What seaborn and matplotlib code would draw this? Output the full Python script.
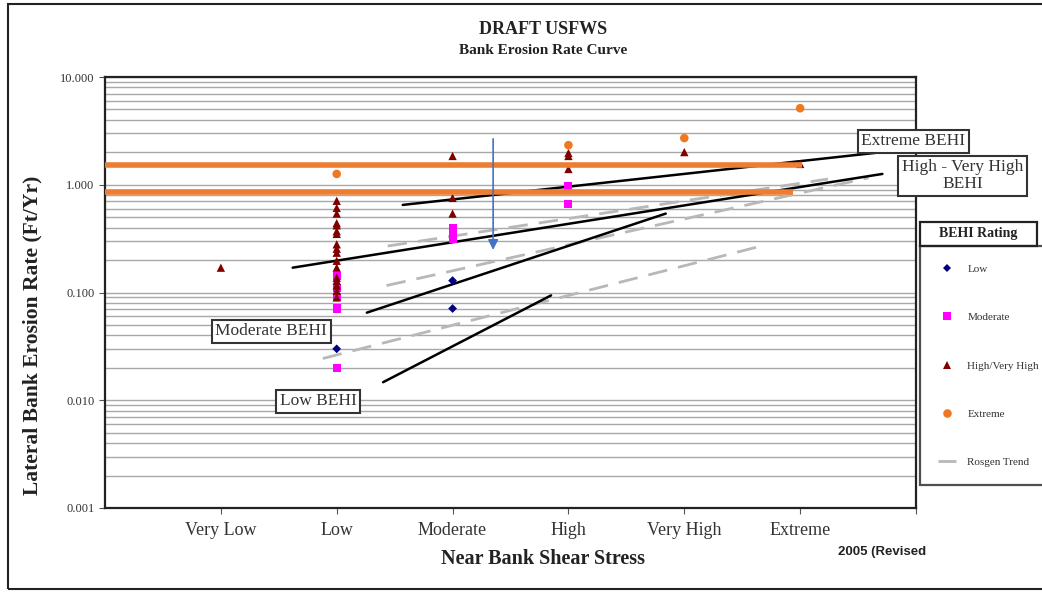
import matplotlib
matplotlib.use("Agg")
import matplotlib.pyplot as plt
import seaborn as sns
import pandas as pd
from matplotlib.patches import Rectangle
from matplotlib.ticker import FixedLocator, LogLocator, NullFormatter

stress_levels = ["Very Low", "Low", "Moderate", "High", "Very High", "Extreme"]
behi_ratings = ["Low", "Moderate", "High/Very High", "Extreme"]

# observed points, one pair of lists per BEHI rating
low_stress = ["Low", "Moderate", "Moderate"]
low_rate = [0.030, 0.129, 0.071]
mod_stress = ["Low"] * 5 + ["Moderate"] * 3 + ["High"] * 2
mod_rate = [0.143, 0.111, 0.090, 0.071, 0.020, 0.398, 0.351, 0.315, 0.98, 0.66]
hvh_stress = ["Very Low"] + ["Low"] * 17 + ["Moderate"] * 3 + ["High"] * 3 + ["Very High", "Extreme"]
hvh_rate = [0.17,
            0.71, 0.61, 0.54, 0.44, 0.42, 0.37, 0.35, 0.28, 0.255, 0.234,
            0.197, 0.170, 0.137, 0.129, 0.116, 0.104, 0.090,
            1.85, 0.755, 0.54,
            1.97, 1.85, 1.40,
            2.01, 1.56]
ext_stress = ["Low", "High", "Very High", "Extreme"]
ext_rate = [1.26, 2.33, 2.71, 5.13]

# BEHI trend lines (x in stress-category units)
extreme_line_x, extreme_line_y = [2.57, 6.71], [0.65, 2.01]
hvh_line_x, hvh_line_y = [1.62, 6.71], [0.17, 1.26]
moderate_line_x, moderate_line_y = [2.26, 4.84], [0.065, 0.54]
low_line_x, low_line_y = [2.40, 3.85], [0.0147, 0.094]

# Rosgen trends (dashed)
rosgen_a_x, rosgen_a_y = [2.44, 6.24], [0.27, 1.13]
rosgen_b_x, rosgen_b_y = [2.43, 6.59], [0.116, 1.16]
rosgen_c_x, rosgen_c_y = [1.88, 5.64], [0.0244, 0.266]

# orange threshold bars and blue arrow
threshold_rate = [1.53, 0.85]
threshold_end = [6.02, 5.94]
arrow_x = 3.35
arrow_rate = [2.83, 0.234]

ytick_vals = [0.001, 0.01, 0.1, 1, 10]
ytick_labels = ["0.001", "0.010", "0.100", "1.000", "10.000"]


def main():
    rows = []
    for rating, st, rt in [("Low", low_stress, low_rate),
                           ("Moderate", mod_stress, mod_rate),
                           ("High/Very High", hvh_stress, hvh_rate),
                           ("Extreme", ext_stress, ext_rate)]:
        for s, r in zip(st, rt):
            rows.append({"pos": stress_levels.index(s) + 1, "rate": r, "rating": rating})
    df = pd.DataFrame(rows)

    sns.set_style("white")
    plt.rcParams["font.family"] = ["Liberation Serif", "DejaVu Serif"]

    fig = plt.figure(figsize=(10.42, 5.92), dpi=100)
    ax = fig.add_axes([105 / 1042, 1 - 508 / 592, 811 / 1042, 431 / 592])

    ax.set_yscale("log")
    ax.set_ylim(0.001, 10)
    ax.set_xlim(0, 7)

    ax.yaxis.set_major_locator(FixedLocator(ytick_vals))
    ax.set_yticklabels(ytick_labels, fontsize=9, color="#333333")
    ax.yaxis.set_minor_locator(LogLocator(base=10, subs=range(2, 10)))
    ax.yaxis.set_minor_formatter(NullFormatter())
    ax.grid(True, which="both", axis="y", color="#a8a8a8", lw=1)
    ax.grid(False, axis="x")
    ax.tick_params(axis="y", which="minor", length=0)
    ax.tick_params(axis="y", which="major", length=4, left=True, color="#555555")
    ax.set_xticks(range(1, 8))
    ax.set_xticklabels(stress_levels + [""], fontsize=13, color="#333333")
    ax.tick_params(axis="x", length=4, bottom=True, color="#555555", pad=6)
    for sp in ax.spines.values():
        sp.set_color("#222222")
        sp.set_linewidth(1.6)

    # black BEHI lines
    for lx, ly in [(extreme_line_x, extreme_line_y), (hvh_line_x, hvh_line_y),
                   (moderate_line_x, moderate_line_y), (low_line_x, low_line_y)]:
        ax.plot(lx, ly, color="black", lw=1.8, zorder=3)

    # Rosgen dashed lines
    for i, (lx, ly) in enumerate([(rosgen_a_x, rosgen_a_y), (rosgen_b_x, rosgen_b_y),
                                  (rosgen_c_x, rosgen_c_y)]):
        ax.plot(lx, ly, color="#b8b8b8", lw=2, dashes=(7, 4), zorder=2.5,
                label="Rosgen Trend" if i == 0 else "_nolegend_")

    sns.scatterplot(data=df, x="pos", y="rate", hue="rating", style="rating",
                    size="rating",
                    hue_order=behi_ratings, style_order=behi_ratings,
                    size_order=behi_ratings,
                    sizes={"Low": 20, "Moderate": 34, "High/Very High": 36, "Extreme": 38},
                    palette={"Low": "#000080", "Moderate": "#ff00ff",
                             "High/Very High": "#800000", "Extreme": "#f07820"},
                    markers={"Low": "D", "Moderate": "s",
                             "High/Very High": "^", "Extreme": "o"},
                    linewidth=0, ax=ax, zorder=4)

    for r, xe in zip(threshold_rate, threshold_end):
        ax.plot([0, xe], [r, r], color="#ed7d31", lw=4, solid_capstyle="butt", zorder=5)

    ax.annotate("", xy=(arrow_x, arrow_rate[1]), xytext=(arrow_x, arrow_rate[0]),
                arrowprops=dict(arrowstyle="-|>", color="#4472c4", lw=1.2,
                                mutation_scale=15), zorder=6)

    box = dict(boxstyle="square,pad=0.2", fc="white", ec="#333333", lw=1.5)
    for txt, xx, yy in [("Extreme BEHI", 6.975, 2.54),
                        ("High - Very High\nBEHI", 7.4, 1.21),
                        ("Moderate BEHI", 1.436, 0.0435),
                        ("Low BEHI", 1.842, 0.0098)]:
        ax.text(xx, yy, txt, ha="center", va="center", fontsize=12.5, color="#333333",
                bbox=box, linespacing=1.1, zorder=7, clip_on=False)

    ax.set_xlabel("Near Bank Shear Stress", fontsize=14.5, fontweight="bold", color="#222222")
    ax.xaxis.set_label_coords((543 - 105) / 811, -0.095)
    ax.set_ylabel("Lateral Bank Erosion Rate (Ft/Yr)", fontsize=15.5,
                  fontweight="bold", color="#222222")
    ax.yaxis.set_label_coords(-0.0777, 0.401)

    fig.text(543 / 1042, 1 - 30 / 592, "DRAFT USFWS", ha="center", va="center",
             fontsize=13, fontweight="bold", color="#222222")
    fig.text(543 / 1042, 1 - 50 / 592, "Bank Erosion Rate Curve", ha="center",
             va="center", fontsize=11, fontweight="bold", color="#222222")
    fig.text(838 / 1042, 1 - 552 / 592, "2005 (Revised", ha="left", va="center",
             fontsize=9.5, fontweight="bold", family=["Liberation Sans", "DejaVu Sans"],
             color="#222222")

    handles, labels = ax.get_legend_handles_labels()
    order = behi_ratings + ["Rosgen Trend"]
    hmap = dict(zip(labels, handles))
    leg = ax.legend([hmap[k] for k in order], order,
                    loc="upper left", bbox_to_anchor=(920 / 1042, 1 - 246 / 592),
                    bbox_transform=fig.transFigure, borderaxespad=0,
                    fontsize=8, labelspacing=3.46, handlelength=1.6,
                    handletextpad=1.0, borderpad=1.65,
                    frameon=True, fancybox=False, edgecolor="#222222")
    leg.get_frame().set_linewidth(1.6)
    for t in leg.get_texts():
        t.set_color("#333333")

    # legend title in its own box
    fig.patches.append(Rectangle((920 / 1042, 1 - 246 / 592), 117 / 1042, 24 / 592,
                                 transform=fig.transFigure, fill=False,
                                 ec="#222222", lw=1.6))
    fig.text(978 / 1042, 1 - 234 / 592, "BEHI Rating", ha="center", va="center",
             fontsize=10, fontweight="bold", color="#222222")
    fig.patches.append(Rectangle((8 / 1042, 1 - 589 / 592), 1.2, 585 / 592,
                                 transform=fig.transFigure, fill=False,
                                 ec="#222222", lw=1.5))

    fig.savefig("out.png", dpi=100)


if __name__ == "__main__":
    main()
